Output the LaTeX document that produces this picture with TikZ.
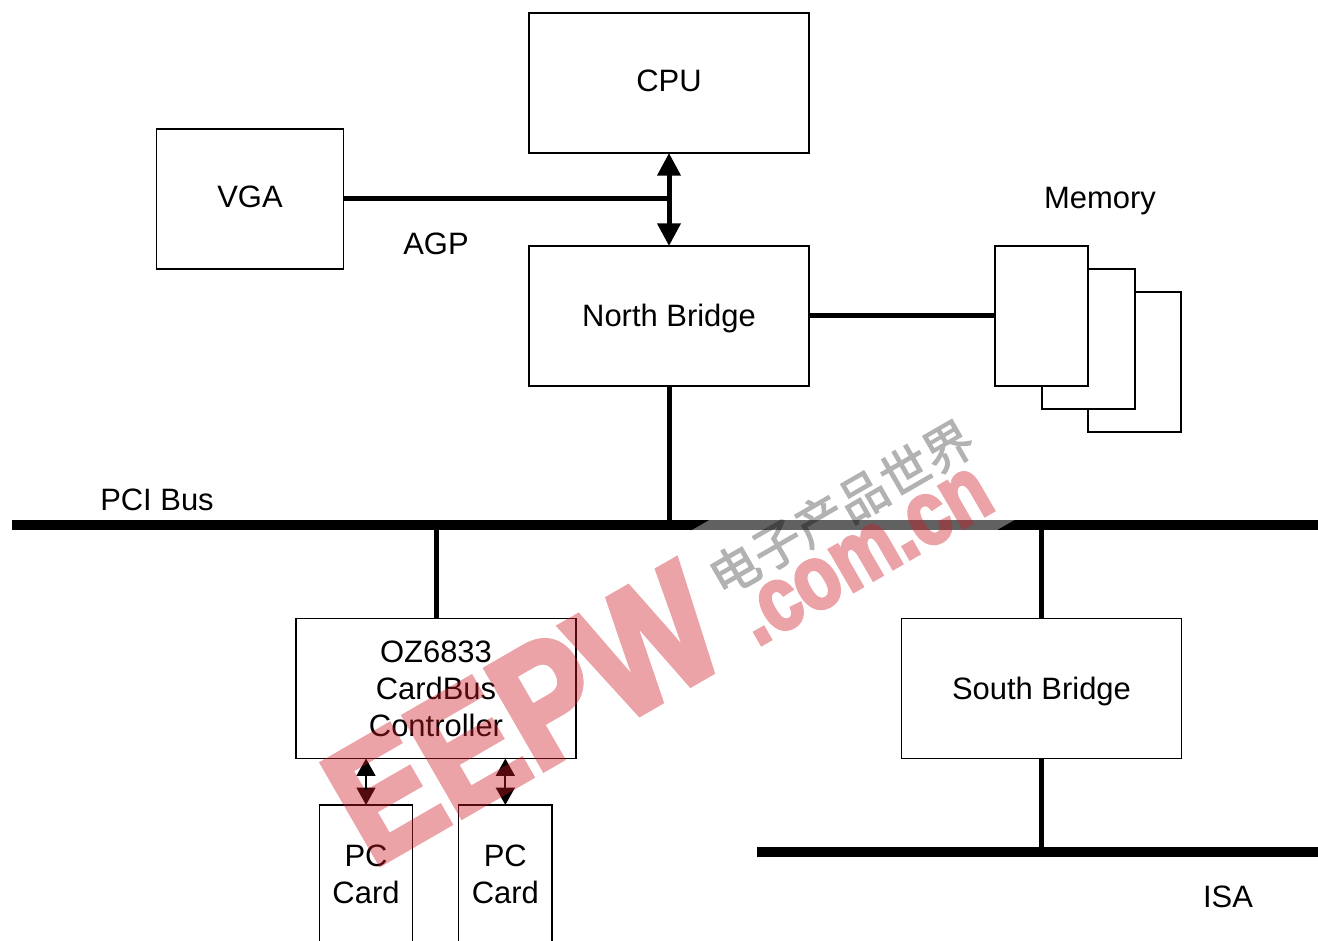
\documentclass[tikz,border=0pt]{standalone}
\usepackage{fontspec}
\setmainfont{Liberation Sans}
\newfontfamily\cnfont[FakeBold=2]{Noto Sans CJK SC}
\newfontfamily\wmfont[FakeBold=4]{Liberation Sans Bold}
\usetikzlibrary{arrows.meta, positioning}
\definecolor{wmpink}{RGB}{205,25,38}
\tikzset{
  basebox/.style={rectangle,draw=black,line width=1.1pt,fill=white,align=center,outer sep=0pt,font=\fontsize{23.2}{27.75}\selectfont},
  bridgenode/.style={basebox,minimum width=210pt,minimum height=105pt},
  vganode/.style={basebox,minimum width=140pt,minimum height=105pt},
  memnode/.style={basebox,minimum width=70pt,minimum height=105pt},
  cardnode/.style={basebox,draw=none,fill=none,minimum width=70pt,minimum height=103.5pt},
  labelnode/.style={font=\fontsize{23.2}{27.75}\selectfont,align=center},
  linkline/.style={line width=3.75pt},
  busline/.style={line width=7.5pt},
  cardedge/.style={line width=1.1pt},
  thickarr/.style={{Triangle[length=17pt,width=17pt]}-{Triangle[length=17pt,width=17pt]},line width=3.75pt},
  thinarr/.style={{Triangle[length=13pt,width=14pt]}-{Triangle[length=13pt,width=14pt]},line width=1.7pt},
  wmnode/.style={text=wmpink,rotate=30,anchor=base west,inner sep=0pt}
}
\begin{document}
\begin{tikzpicture}[x=0.75pt,y=-0.75pt]
  \useasboundingbox (0,0) rectangle (1318,941);
  \clip (0,0) rectangle (1318,941);

  \node[bridgenode,text depth=3pt] (cpu) at (669,83) {CPU};
  \node[bridgenode,text depth=1pt,below=69.75pt of cpu] (northb) {North Bridge};
  \node[vganode,text depth=3pt] (vga) at (250,199) {VGA};

  % memory cards, back to front
  \node[memnode] (memC) at (1134.5,362) {};
  \node[memnode] (memB) at (1088.5,339) {};
  \node[memnode] (memA) at (1041.5,316) {};

  \node[bridgenode] (ozctrl) at (436,688.5) {OZ6833\\CardBus\\Controller};
  \node[bridgenode,text depth=1pt] (southb) at (1041.5,688.5) {South Bridge};

  \node[cardnode] (cardA) at (366,874) {PC\\Card};
  \node[cardnode,right=34.5pt of cardA] (cardB) {PC\\Card};

  \node[labelnode] (agp) at (436,244) {AGP};
  \node[labelnode] (memlabel) at (1100,201) {Memory};
  \node[labelnode] (pcilabel) at (157,500) {PCI Bus};
  \node[labelnode] (isalabel) at (1228,897) {ISA};

  \coordinate (pciL) at (12,525);
  \coordinate (pciR) at (1318,525);
  \coordinate (isaL) at (757,852);
  \coordinate (isaR) at (1318,852);

  \draw[busline] (pciL) -- (pciR);
  \draw[busline] (isaL) -- (isaR);

  \draw[linkline] (vga.east) -- (vga.east -| cpu.south);
  \draw[thickarr] (cpu.south) -- (northb.north);
  \draw[linkline] (northb.east) -- (memA.west);
  \draw[linkline] (northb.south) -- (northb.south |- pciL);
  \draw[linkline] (ozctrl.north) -- (ozctrl.north |- pciL);
  \draw[linkline] (southb.north) -- (southb.north |- pciR);
  \draw[linkline] (southb.south) -- (southb.south |- isaL);

  \draw[cardedge] (cardA.south west) -- (cardA.north west) -- (cardA.north east) -- (cardA.south east);
  \draw[cardedge] (cardB.south west) -- (cardB.north west) -- (cardB.north east) -- (cardB.south east);
  \draw[thinarr] (ozctrl.south -| cardA.north) -- (cardA.north);
  \draw[thinarr] (ozctrl.south -| cardB.north) -- (cardB.north);

  % watermark
  \fill[white,opacity=0.38] (640,560) -- (716,692) -- (1030,511) -- (954,379) -- cycle;
  \begin{scope}[transparency group,opacity=0.4]
    \node[wmnode,font=\fontsize{125}{125}\selectfont\wmfont] (wmEepw) at (372,868) {\scalebox{0.85}[1]{EEPW}};
    \node[wmnode,font=\fontsize{68}{68}\selectfont\wmfont] (wmCom) at (757,647) {\scalebox{0.81}[1]{.com.cn}};
  \end{scope}
  \begin{scope}[transparency group,opacity=0.3]
    \node[wmnode,text=black,font=\fontsize{37}{37}\selectfont\cnfont] (wmCn) at (722,598) {电子产品世界};
  \end{scope}
\end{tikzpicture}
\end{document}
